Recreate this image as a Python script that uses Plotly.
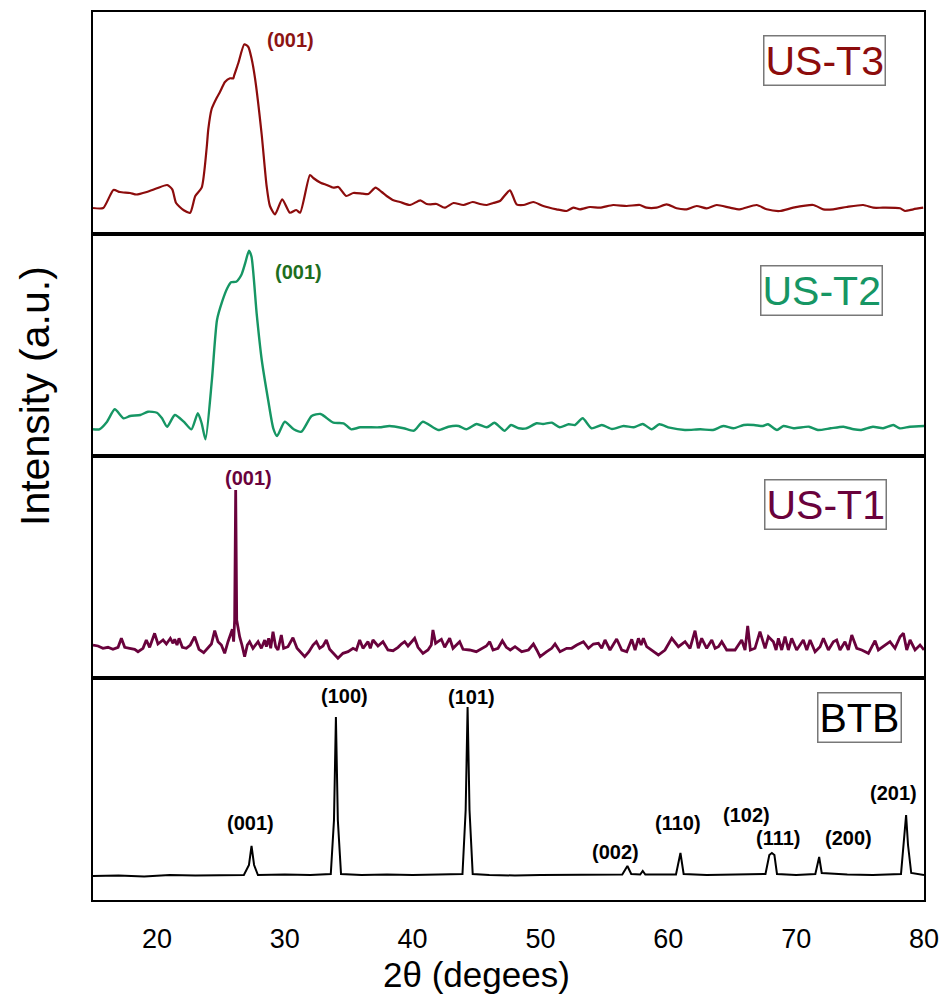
import plotly.graph_objects as go
from plotly.subplots import make_subplots

# ---------------- data (2theta in degrees, intensity in a.u.) ----------------
t3_x = [15.0, 15.8, 16.6, 17.1, 17.9, 18.4, 19.2, 20.0, 20.8, 21.2,
        21.5, 22.1, 22.6, 23.0, 23.5, 23.89, 24.02, 24.28, 24.67, 24.93,
        25.32, 25.72, 25.98, 26.03, 26.37, 26.84, 27.15, 27.41, 27.67, 28.19,
        28.58, 28.84, 29.24, 29.8, 30.4, 30.9, 31.2, 31.97, 32.23, 32.8,
        33.28, 33.8, 34.19, 34.8, 35.36, 36.1, 36.54, 37.1, 37.58, 37.97,
        38.5, 39.01, 39.8, 40.6, 41.10, 41.4, 41.88, 42.5, 43.2, 43.97,
        44.7, 45.27, 45.8, 46.31, 46.83, 47.61, 48.13, 48.66, 49.44, 50.22,
        51.26, 52.04, 52.57, 53.09, 53.87, 54.65, 55.69, 56.74, 57.78, 58.30,
        59.08, 59.87, 60.65, 61.43, 62.21, 63.00, 63.78, 64.82, 65.60, 66.91,
        67.69, 68.73, 69.77, 71.34, 72.12, 72.90, 73.95, 75.25, 76.03, 76.81,
        78.12, 78.51, 79.16, 79.94]
t3_y = [26, 26, 44, 42, 41, 39.5, 42, 45.7, 49, 44.7,
        31, 23.7, 21.3, 38, 46.3, 86, 105, 125, 136, 142,
        152, 155.7, 155.7, 158, 171, 189.7, 187, 175, 156, 100,
        48, 28, 19.7, 34.7, 21.3, 24, 21.3, 59, 56, 51.3,
        49, 46.3, 47, 38, 41, 40.3, 40, 46.3, 42, 38,
        33.7, 32, 29, 33.7, 30, 29.7, 30, 26.3, 31, 29,
        32, 30, 29, 31, 33, 43.7, 29.7, 29, 32, 28,
        24.7, 23, 26.3, 24.7, 27, 26.3, 29, 28, 29, 26.3,
        26.3, 29.7, 25.7, 24.7, 28, 25.7, 29, 26.3, 24.7, 29,
        24.7, 23, 26.3, 29, 24.7, 24.7, 27, 29, 26.3, 26.3,
        25.7, 23, 24.7, 26.3]

t2_x = [15.0, 15.5, 16.1, 16.7, 17.4, 17.9, 18.7, 19.3, 20.0, 20.4,
        20.8, 21.4, 22.1, 22.7, 23.2, 23.5, 23.8, 24.3, 24.7, 25.1,
        25.5, 25.8, 26.2, 26.6, 26.9, 27.2, 27.4, 27.8, 28.2, 28.7,
        29.1, 29.4, 30.0, 30.7, 31.3, 32.1, 32.8, 33.8, 34.6, 35.2,
        35.9, 37.4, 38.2, 39.3, 40.1, 40.8, 42.0, 42.8, 43.6, 44.2,
        45.0, 45.8, 46.4, 46.8, 47.2, 47.7, 48.3, 48.9, 49.7, 50.2,
        50.9, 51.5, 52.2, 52.7, 53.3, 54.0, 54.8, 55.6, 56.5, 57.3,
        58.0, 58.7, 59.3, 60.1, 61.3, 62.5, 63.5, 64.3, 65.1, 65.9,
        66.7, 67.4, 67.8, 68.5, 69.0, 69.8, 71.0, 71.7, 72.7, 73.7,
        74.5, 75.1, 76.0, 76.8, 77.6, 78.1, 78.9, 80.0]
t2_y = [26.7, 26.7, 34.3, 46.7, 37.7, 40, 41, 44.3, 43.3, 37.7,
        29.3, 41, 34.3, 26.7, 42.7, 32.7, 16.7, 76, 136, 154.3,
        167.7, 173.7, 174.3, 181, 192.7, 205.3, 199.3, 142.7, 96, 56,
        27.7, 20, 34.3, 26.7, 24.3, 40, 42, 33.3, 32.7, 26.7,
        28.7, 28.7, 30, 27.7, 25.3, 34.3, 26, 29.3, 30, 26.7,
        32, 28.7, 33.3, 29.3, 25.3, 31, 27.7, 27.7, 32.7, 32,
        33.3, 28.7, 31.7, 31, 37.7, 27.7, 31, 27, 30, 28.7,
        32, 26.7, 31.7, 28.3, 26, 26.7, 26, 30, 27.7, 31,
        31, 30, 31.7, 26, 30, 27.7, 29.3, 26, 27.7, 29.3,
        26.7, 26, 29.3, 27.7, 31, 27.7, 29.3, 30]

t1_x = [15.00, 15.39, 15.78, 16.17, 16.56, 16.96, 17.22, 17.48, 17.87, 18.26,
        18.52, 18.91, 19.17, 19.43, 19.82, 20.08, 20.48, 20.74, 21.05, 21.26,
        21.39, 21.57, 21.73, 21.99, 22.30, 22.61, 22.95, 23.29, 23.66, 23.99,
        24.26, 24.52, 24.78, 25.04, 25.30, 25.56, 25.74, 25.90, 26.00, 26.08,
        26.16, 26.24, 26.34, 26.47, 26.65, 26.86, 27.07, 27.25, 27.51, 27.91,
        28.17, 28.43, 28.56, 28.74, 28.90, 29.08, 29.29, 29.47, 29.73, 29.91,
        30.25, 30.64, 30.96, 31.30, 31.56, 31.89, 32.21, 32.47, 32.73, 32.99,
        33.25, 33.51, 33.77, 34.16, 34.55, 34.95, 35.34, 35.60, 35.86, 36.12,
        36.51, 36.69, 36.90, 37.29, 37.68, 38.07, 38.47, 38.86, 39.12, 39.38,
        39.64, 39.90, 40.16, 40.42, 40.81, 41.20, 41.46, 41.59, 41.80, 41.98,
        42.25, 42.51, 42.90, 43.16, 43.68, 43.94, 44.46, 44.98, 45.50, 45.77,
        46.03, 46.29, 46.68, 47.02, 47.33, 47.64, 48.01, 48.53, 49.06, 49.45,
        49.71, 49.97, 50.49, 50.88, 51.14, 51.53, 52.05, 52.44, 52.84, 53.36,
        53.75, 54.14, 54.53, 54.79, 55.05, 55.44, 55.96, 56.36, 56.75, 57.14,
        57.40, 57.66, 57.87, 58.05, 58.31, 58.70, 59.22, 59.74, 60.27, 60.79,
        61.31, 61.70, 62.09, 62.35, 62.61, 63.00, 63.40, 63.66, 63.92, 64.18,
        64.57, 65.22, 65.74, 66.00, 66.21, 66.42, 66.78, 67.17, 67.57, 67.83,
        68.22, 68.43, 68.61, 68.87, 69.13, 69.39, 69.65, 70.04, 70.56, 70.83,
        71.09, 71.48, 71.87, 72.13, 72.52, 72.91, 73.17, 73.43, 73.82, 74.08,
        74.35, 74.74, 75.13, 75.65, 76.17, 76.43, 76.95, 77.34, 77.73, 78.13,
        78.39, 78.65, 78.91, 79.30, 79.69, 80.00]
t1_y = [33.0, 32.0, 29.7, 30.7, 28.7, 30.7, 39.7, 30.7, 29.7, 28.7,
        26.3, 29.7, 38.0, 30.7, 44.7, 34.0, 38.0, 34.0, 39.7, 34.7,
        38.7, 33.0, 39.7, 30.7, 29.7, 33.0, 41.3, 28.7, 25.3, 29.7,
        34.0, 47.3, 36.3, 33.0, 24.7, 36.3, 42.0, 48.7, 36.3, 58,
        188, 58, 50.7, 41.3, 33, 21.3, 33, 36.3, 29.7, 36.3,
        29.7, 38, 31.3, 39.7, 29.7, 46.3, 31.3, 28, 43, 29.7,
        31.3, 40.3, 29.7, 25.3, 21.3, 26.3, 33, 36.3, 29.7, 32,
        38, 28.7, 24.7, 19.7, 24.7, 26.3, 29.7, 28, 38, 29.7,
        36.3, 29.7, 38, 32, 36.3, 28, 27.3, 30.7, 34, 36.3,
        32, 36.3, 39.7, 30.7, 24.7, 28, 33, 48, 34.7, 36.3,
        38.7, 30.7, 39.7, 29.7, 36.3, 28.7, 28, 26.3, 29.7, 32,
        36.3, 28, 29.7, 37.3, 30.7, 28, 31.3, 26.3, 28, 34,
        28, 21.3, 26.3, 29.7, 34, 26.3, 29.7, 29.7, 33, 36.3,
        29.7, 34, 34.7, 29.7, 38, 28, 39, 28, 26.3, 38.7,
        28, 39.7, 33, 39.7, 31.3, 28, 23, 28, 39.7, 31.3,
        36.3, 29.7, 47.3, 29.7, 39.7, 29.7, 38, 29.7, 31.3, 36.3,
        28, 28, 38, 28, 52, 28, 29.7, 46.3, 29.7, 41.3,
        36.3, 28, 39.7, 28, 41.3, 28, 39.7, 28, 38, 28,
        38, 26.3, 31.3, 39.7, 28, 36.3, 38, 28, 36.3, 28,
        43, 29.7, 28, 24.7, 37.3, 28, 33, 36.3, 29.7, 41.3,
        44.7, 28, 38, 28, 33, 28]

btb_x = [15.0, 17.0, 19.0, 21.0, 23.0, 25.0, 26.8, 27.2, 27.4, 27.6,
         27.9, 30.0, 32.0, 33.6, 33.85, 34.0, 34.15, 34.4, 36.0, 38.0,
         40.0, 42.0, 43.9, 44.15, 44.3, 44.45, 44.7, 46.0, 48.0, 50.0,
         52.0, 54.0, 56.4, 56.8, 57.1, 57.8, 58.0, 58.2, 60.6, 60.95,
         61.2, 63.0, 65.0, 67.6, 67.9, 68.1, 68.3, 68.5, 70.0, 71.5,
         71.8, 72.0, 74.0, 76.0, 78.2, 78.45, 78.6, 78.75, 79.0, 80.0]
btb_y = [24, 24.5, 23.5, 25, 24.5, 25, 25, 35, 54, 35,
         25, 25.5, 25, 26, 80, 183, 80, 26, 25, 25.5,
         25, 25.5, 26, 90, 193, 90, 26, 25, 24.5, 25,
         25, 25, 25.5, 34, 26, 25.5, 29, 25.5, 25.5, 47,
         26, 25, 25.5, 26, 45, 47, 45, 26, 25, 26,
         43, 27, 25.5, 25, 26, 60, 85, 55, 27, 25]

sample_names = ["US-T3", "US-T2", "US-T1", "BTB"]
x_ticks = [20, 30, 40, 50, 60, 70, 80]

# peak labels: (panel row, text, 2theta position, intensity position)
peak_labels = [
    (1, "(001)", 30.41, 194),
    (2, "(001)", 31.06, 184),
    (3, "(001)", 27.15, 200),
    (4, "(001)", 27.28, 77),
    (4, "(100)", 34.71, 204),
    (4, "(101)", 44.62, 203),
    (4, "(002)", 55.83, 48),
    (4, "(110)", 60.78, 77),
    (4, "(102)", 66.13, 85),
    (4, "(111)", 68.60, 62),
    (4, "(200)", 74.08, 62),
    (4, "(201)", 77.60, 107),
]
# sample-name box positions: (row, 2theta, intensity)
name_pos = [(1, 72.23, 174), (2, 72.0, 166), (3, 72.28, 174), (4, 74.95, 182.5)]

# ---------------- styles ----------------
FONT = "Arial, Liberation Sans, sans-serif"
line_colors = ["rgb(140,12,12)", "rgb(22,150,100)", "rgb(105,2,60)", "rgb(0,0,0)"]
name_colors = ["rgb(140,12,12)", "rgb(22,150,100)", "rgb(105,2,60)", "rgb(0,0,0)"]
label_colors = {1: "rgb(140,20,20)", 2: "rgb(30,110,30)", 3: "rgb(105,2,60)", 4: "rgb(0,0,0)"}
line_widths = [2.2, 2.4, 2.8, 2.0]
line_shapes = ["spline", "spline", "linear", "linear"]

fig = make_subplots(rows=4, cols=1, shared_xaxes=True, vertical_spacing=0)

series = [(t3_x, t3_y), (t2_x, t2_y), (t1_x, t1_y), (btb_x, btb_y)]
for i, (xs, ys) in enumerate(series):
    fig.add_trace(go.Scatter(x=xs, y=ys, mode="lines", name=sample_names[i],
                             line=dict(color=line_colors[i], width=line_widths[i],
                                       shape=line_shapes[i], smoothing=0.6),
                             showlegend=False), row=i + 1, col=1)

for r in range(1, 5):
    fig.update_xaxes(range=[15, 80], showline=True, mirror=True, linecolor="black",
                     linewidth=2, showgrid=False, zeroline=False, ticks="",
                     tickvals=x_ticks, showticklabels=(r == 4), automargin=False,
                     row=r, col=1)
    fig.update_yaxes(range=[0, 222], showline=True, mirror=True, linecolor="black",
                     linewidth=2, showgrid=False, zeroline=False, ticks="",
                     showticklabels=False, automargin=False, row=r, col=1)

fig.update_xaxes(tickfont=dict(family=FONT, size=27, color="black"),
                 ticklabelstandoff=14, row=4, col=1)

annotations = []
for (row, txt, xv, yv) in peak_labels:
    suffix = "" if row == 1 else str(row)
    annotations.append(dict(x=xv, y=yv, xref="x" + suffix, yref="y" + suffix,
                            text="<b>" + txt + "</b>", showarrow=False,
                            font=dict(family=FONT, size=20, color=label_colors[row]),
                            xanchor="center", yanchor="middle"))
for i, (row, xv, yv) in enumerate(name_pos):
    suffix = "" if row == 1 else str(row)
    annotations.append(dict(x=xv, y=yv, xref="x" + suffix, yref="y" + suffix,
                            text=sample_names[i], showarrow=False,
                            font=dict(family=FONT, size=41, color=name_colors[i]),
                            bordercolor="rgb(120,120,120)", borderwidth=1.5, borderpad=1,
                            bgcolor="white", xanchor="center", yanchor="middle"))
annotations.append(dict(x=-0.0698, y=0.5676, xref="paper", yref="paper",
                        text="Intensity (a.u.)", textangle=-90, showarrow=False,
                        font=dict(family=FONT, size=41, color="black"),
                        xanchor="center", yanchor="middle"))
annotations.append(dict(x=0.4615, y=-0.0835, xref="paper", yref="paper",
                        text="2θ (degees)", showarrow=False,
                        font=dict(family=FONT, size=35, color="black"),
                        xanchor="center", yanchor="middle"))

fig.update_layout(width=946, height=1001,
                  margin=dict(l=93, r=22, t=12, b=101),
                  paper_bgcolor="white", plot_bgcolor="white",
                  annotations=annotations)

fig.write_html("out.html")
